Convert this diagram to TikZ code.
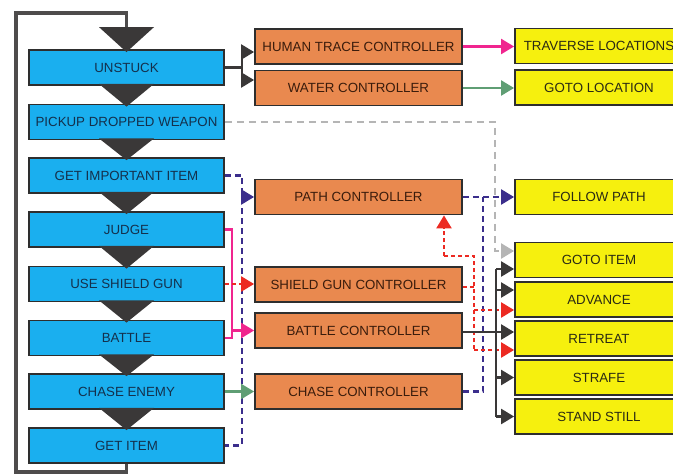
\documentclass[tikz,border=0pt]{standalone}
\usepackage{fontspec}
\setmainfont{Liberation Sans}
\usetikzlibrary{arrows.meta,calc}
\definecolor{bluefill}{HTML}{1AAFEF}
\definecolor{orangefill}{HTML}{E9894F}
\definecolor{yellowfill}{HTML}{F6F00E}
\definecolor{edge}{HTML}{2E2E2E}
\definecolor{tri}{HTML}{3A3838}
\definecolor{navy}{HTML}{3B2E8C}
\definecolor{magent}{HTML}{F0258F}
\definecolor{grn}{HTML}{5F9E74}
\definecolor{redd}{HTML}{EC2A22}
\definecolor{gry}{HTML}{B5B5B5}
\definecolor{bluetext}{HTML}{14304C}
\definecolor{orangetext}{HTML}{3A1C0C}
\definecolor{yellowtext}{HTML}{2A2A14}
\begin{document}
\begin{tikzpicture}[x=1pt,y=-1pt,
  box/.style={draw=edge,line width=1.8pt,minimum height=35pt,inner sep=0pt,font=\fontsize{13.3}{15}\selectfont},
  bluebox/.style={box,fill=bluefill,minimum width=195pt,text=bluetext},
  orangebox/.style={box,fill=orangefill,minimum width=207pt,text=orangetext},
  yellowbox/.style={box,fill=yellowfill,minimum width=168pt,text=yellowtext},
  tip/.style={-{Triangle[length=13pt,width=15pt]}},
  dk/.style={draw=tri,line width=2.4pt},
  loopline/.style={draw=tri!90!white,line width=3.5pt},
  navyline/.style={draw=navy,line width=2.3pt,dash pattern=on 6pt off 4pt},
  redline/.style={draw=redd,line width=2.3pt,dash pattern=on 4pt off 3pt},
  grayline/.style={draw=gry,line width=2.2pt,dash pattern=on 7pt off 5pt},
  mag/.style={draw=magent,line width=2.2pt},
  grnline/.style={draw=grn,line width=2.2pt},
  tristyle/.style={fill=tri}
]
\useasboundingbox (0,0) rectangle (673,474);
\clip (0,0) rectangle (673,474);

% left column
\node[bluebox] (UNSTUCK) at (126.5,67.5) {UNSTUCK};
\node[bluebox] (PICKUP) at (126.5,122) {PICKUP DROPPED WEAPON};
\node[bluebox] (GII) at (126.5,175.5) {GET IMPORTANT ITEM};
\node[bluebox] (JUDGE) at (126.5,229.5) {JUDGE};
\node[bluebox] (USG) at (126.5,284) {USE SHIELD GUN};
\node[bluebox] (BATTLE) at (126.5,338) {BATTLE};
\node[bluebox] (CHASE) at (126.5,391.5) {CHASE ENEMY};
\node[bluebox] (GETITEM) at (126.5,445.5) {GET ITEM};

% middle column
\node[orangebox] (HT) at (358.5,46.5) {HUMAN TRACE CONTROLLER};
\node[orangebox] (WATER) at (358.5,88) {WATER CONTROLLER};
\node[orangebox] (PATH) at (358.5,197) {PATH CONTROLLER};
\node[orangebox] (SHIELDC) at (358.5,284.5) {SHIELD GUN CONTROLLER};
\node[orangebox] (BATTLEC) at (358.5,330.5) {BATTLE CONTROLLER};
\node[orangebox] (CHASEC) at (358.5,391.5) {CHASE CONTROLLER};

% right column
\node[yellowbox] (TRAV) at (599,46) {TRAVERSE LOCATIONS};
\node[yellowbox] (GOTOLOC) at (599,87.5) {GOTO LOCATION};
\node[yellowbox] (FOLLOW) at (599,197) {FOLLOW PATH};
\node[yellowbox] (GOTOITEM) at (599,260) {GOTO ITEM};
\node[yellowbox] (ADVANCE) at (599,299.5) {ADVANCE};
\node[yellowbox] (RETREAT) at (599,338.5) {RETREAT};
\node[yellowbox] (STRAFE) at (599,377.5) {STRAFE};
\node[yellowbox] (STAND) at (599,416.5) {STAND STILL};

% flow triangles
\fill[tristyle] ($(UNSTUCK.north)+(-27.5,-22)$) -- ($(UNSTUCK.north)+(27.5,-22)$) -- ($(UNSTUCK.north)+(0,3)$) -- cycle;
\foreach \a/\b in {UNSTUCK/PICKUP,PICKUP/GII,GII/JUDGE,JUDGE/USG,USG/BATTLE,BATTLE/CHASE,CHASE/GETITEM}{
  \fill[tristyle] ($(\a.south)+(-27.5,-2)$) -- ($(\a.south)+(27.5,-2)$) -- ($(\b.north)+(0,3)$) -- cycle;
}

% loop back
\coordinate (lt) at ($(UNSTUCK.north)+(0,-22)$);
\coordinate (ltop) at (16,13);
\coordinate (lbot) at (16,472);
\draw[loopline] (lt) -- (lt |- ltop) -- (ltop) -- (lbot) -- (GETITEM.south |- lbot) -- (GETITEM.south);

% bus coordinates
\coordinate (busM) at (232,0);
\coordinate (busN1) at (242,0);
\coordinate (busR) at (474,0);
\coordinate (busN2) at (483,0);
\coordinate (busG) at (495,0);
\coordinate (busD) at (496,0);
\coordinate (r1) at (444,256);

% UNSTUCK branches
\coordinate (ub) at ($(UNSTUCK.east)+(17,0)$);
\draw[dk] (UNSTUCK.east) -- (ub);
\draw[dk,tip] (ub) |- ([yshift=-5.5pt]HT.west);
\draw[dk,tip] (ub) |- ([yshift=8pt]WATER.west);

\draw[mag,tip] (HT.east) -- (HT.east -| TRAV.west);
\draw[grnline,tip] (WATER.east) -- (WATER.east -| GOTOLOC.west);

% pickup -> goto item
\draw[grayline,tip] (PICKUP.east) -- (PICKUP.east -| busG) |- ([yshift=9pt]GOTOITEM.west);

% navy left bus
\draw[navyline] (GII.east) -- (GII.east -| busN1) -- (GETITEM.east -| busN1) -- (GETITEM.east);
\draw[navyline,tip] (PATH.west -| busN1) -- (PATH.west);

% magenta
\draw[mag] (JUDGE.east) -| (BATTLEC.west -| busM);
\draw[mag] (BATTLE.east) -| (BATTLEC.west -| busM);
\draw[mag,tip] (BATTLEC.west -| busM) -- (BATTLEC.west);

% shield
\draw[redline,tip] (USG.east) -- (USG.east -| SHIELDC.west);
% chase
\draw[grnline,tip] (CHASE.east) -- (CHASE.east -| CHASEC.west);

% navy right
\draw[navyline,tip] (PATH.east) -- (PATH.east -| FOLLOW.west);
\draw[navyline] (CHASEC.east) -| (PATH.east -| busN2);

% red right
\draw[redline] (r1) -- (r1 -| busR) -- ([yshift=-11.5pt]RETREAT.west -| busR);
\draw[redline] ([yshift=-2.5pt]SHIELDC.east) -- ([yshift=-2.5pt]SHIELDC.east -| busR);
\draw[redline,tip] (r1) -- (r1 |- PATH.south);
\draw[redline,tip] ([yshift=-10.5pt]ADVANCE.west -| busR) -- ([yshift=-10.5pt]ADVANCE.west);
\draw[redline,tip] ([yshift=-11.5pt]RETREAT.west -| busR) -- ([yshift=-11.5pt]RETREAT.west);

% dark right (battle controller outputs)
\draw[dk,tip] ([yshift=6.5pt]RETREAT.west -| BATTLEC.east) -- ([yshift=6.5pt]RETREAT.west);
\draw[dk] ([yshift=-9pt]GOTOITEM.west -| busD) -- (STAND.west -| busD);
\draw[dk,tip] ([yshift=-9pt]GOTOITEM.west -| busD) -- ([yshift=-9pt]GOTOITEM.west);
\draw[dk,tip] ([yshift=9.5pt]ADVANCE.west -| busD) -- ([yshift=9.5pt]ADVANCE.west);
\draw[dk,tip] (STRAFE.west -| busD) -- (STRAFE.west);
\draw[dk,tip] (STAND.west -| busD) -- (STAND.west);
\end{tikzpicture}
\end{document}
